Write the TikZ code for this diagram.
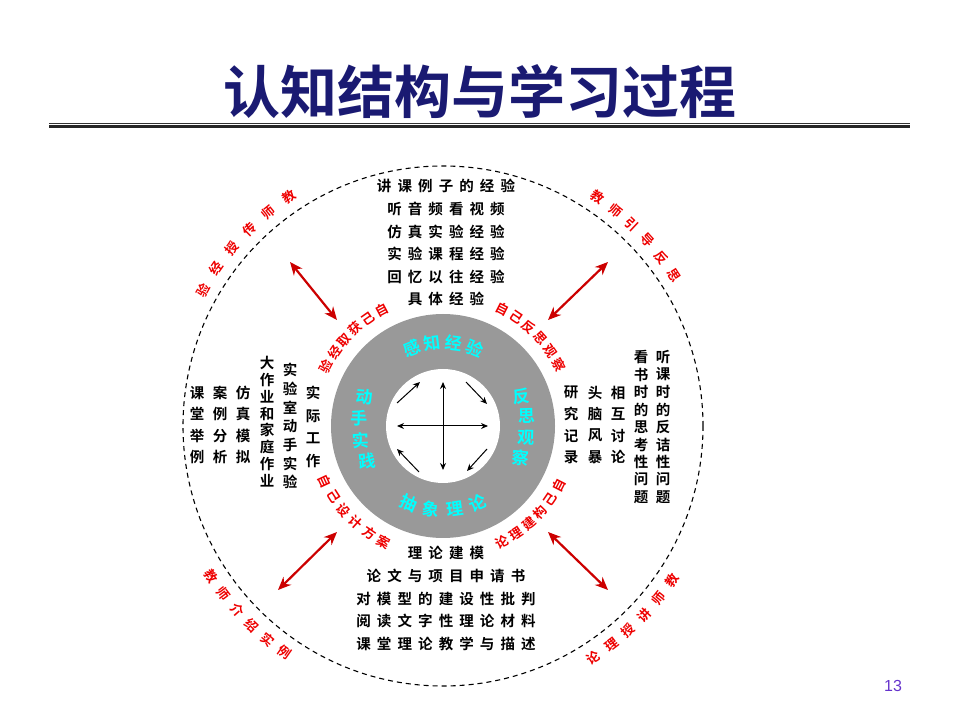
\documentclass[tikz,border=0pt]{standalone}
\usepackage{fontspec}
\setmainfont{Liberation Sans}
\newfontfamily\cjk{Noto Sans CJK SC}[BoldFont={* Bold}]
\usetikzlibrary{calc,arrows.meta}
\definecolor{navy}{HTML}{1A1A72}
\definecolor{redtxt}{HTML}{EE0000}
\definecolor{redarr}{HTML}{CC0000}
\definecolor{ringgray}{HTML}{999999}
\definecolor{cyantxt}{HTML}{00FFFF}
\definecolor{pnum}{HTML}{6633CC}
\tikzset{
  blk/.style={font=\cjk\bfseries\fontsize{14.5}{16}\selectfont, inner sep=0pt},
  blkline/.style={font=\cjk\bfseries\fontsize{14.5}{16}\selectfont\addfontfeature{LetterSpace=42}, inner sep=0pt},
  redc/.style={font=\cjk\bfseries\fontsize{13}{14}\selectfont, text=redtxt, inner sep=0pt},
  cyc/.style={font=\cjk\bfseries\fontsize{17}{18}\selectfont, text=cyantxt, inner sep=0pt},
  dbl/.style={redarr, line width=2.2pt, {Stealth[length=13pt,width=11pt]}-{Stealth[length=13pt,width=11pt]}},
  inarr/.style={black, line width=1pt, -{Stealth[length=7pt,width=6pt]}},
}
% #1 name prefix, #2 style, #3 radius, #4 start angle, #5 step, #6 rot factor, #7 rot offset, #8 list
\newcommand\arctxt[8]{%
  \foreach \ch [count=\i from 0] in {#8} {%
    \pgfmathsetmacro\ang{#4+\i*(#5)}%
    \pgfmathsetmacro\rot{(#6)*\ang+(#7)}%
    \node[#2, rotate=\rot] (#1-\i) at ($(C)+(\ang:#3)$) {\ch};
  }%
}
% #1 name prefix, #2 x, #3 y centre, #4 pitch, #5 count, #6 list
\newcommand\vcol[6]{%
  \foreach \ch [count=\i from 0] in {#6} {%
    \pgfmathsetmacro\yy{#3+((#5-1)/2-\i)*(#4)}%
    \node[blk] (#1-\i) at (#2,\yy) {\ch};
  }%
}
\begin{document}
\begin{tikzpicture}[x=1pt,y=1pt]
\useasboundingbox (0,0) rectangle (960,720);
\fill[white] (0,0) rectangle (960,720);
% title
\node[font=\cjk\bfseries\fontsize{57}{60}\selectfont, text=navy, inner sep=0pt] (title) at (480,628) {认知结构与学习过程};
\draw[line width=0.8pt, black!80] (49,596.3) coordinate (l1a) -- (910,596.3) coordinate (l1b);
\draw[line width=2.5pt, black!85] (49,593.3) coordinate (l2a) -- (910,593.3) coordinate (l2b);
\coordinate (C) at (443,294);
% dashed circle
\draw[dashed, line width=1.1pt, dash pattern=on 5pt off 4pt] (C) circle (260);
% ring
\fill[ringgray] (C) circle (112);
\fill[white] (C) circle (57);
% inner arrows
\coordinate (vt) at (443,338); \coordinate (vb) at (443,250);
\coordinate (hl) at (397,294); \coordinate (hr) at (488,294);
\draw[black, line width=1pt, {Stealth[length=7pt,width=6pt]}-{Stealth[length=7pt,width=6pt]}] (vb) -- (vt);
\draw[black, line width=1pt, {Stealth[length=7pt,width=6pt]}-{Stealth[length=7pt,width=6pt]}] (hl) -- (hr);
\coordinate (d1a) at (397,317); \coordinate (d1b) at (420,338);
\coordinate (d2a) at (466,338); \coordinate (d2b) at (487,316);
\coordinate (d3a) at (487,271); \coordinate (d3b) at (467,249);
\coordinate (d4a) at (419,248); \coordinate (d4b) at (397,271);
\draw[inarr] (d1a) -- (d1b);
\draw[inarr] (d2a) -- (d2b);
\draw[inarr] (d3a) -- (d3b);
\draw[inarr] (d4a) -- (d4b);
% cyan ring text
\arctxt{cyt}{cyc}{84}{112}{-14.7}{1}{-90}{感,知,经,验}
\arctxt{cyr}{cyc}{84}{21}{-14.5}{0.25}{0}{反,思,观,察}
\arctxt{cyl}{cyc}{84}{160}{15}{0.25}{-45}{动,手,实,践}
\arctxt{cyb}{cyc}{84}{246}{16}{1}{90}{抽,象,理,论}
% inner red texts
\arctxt{rtl}{redc}{131}{118}{7}{1}{-90}{自,己,获,取,经,验}
\arctxt{rtr}{redc}{131}{63}{-7}{1}{-90}{自,己,反,思,观,察}
\arctxt{rbr}{redc}{130}{-27}{-7.2}{1}{90}{自,己,构,建,理,论}
\arctxt{rbl}{redc}{130}{205}{7.6}{1}{90}{自,己,设,计,方,案}
% outer red texts
\arctxt{otl}{redc}{276}{124}{5.3}{1}{-90}{教,师,传,授,经,验}
\arctxt{otr}{redc}{276}{56}{-4.6}{1}{-90}{教,师,引,导,反,思}
\arctxt{obl}{redc}{276}{213}{4.4}{1}{90}{教,师,介,绍,实,例}
\arctxt{obr}{redc}{276}{-34}{-4.6}{1}{90}{教,师,讲,授,理,论}
% red double arrows
\coordinate (atl1) at (290,458); \coordinate (atl2) at (337,400);
\coordinate (atr1) at (608,458); \coordinate (atr2) at (548,400);
\coordinate (abl1) at (337,188); \coordinate (abl2) at (278,130);
\coordinate (abr1) at (548,188); \coordinate (abr2) at (608,130);
\draw[dbl] (atl1) -- (atl2);
\draw[dbl] (atr1) -- (atr2);
\draw[dbl] (abl1) -- (abl2);
\draw[dbl] (abr1) -- (abr2);
% top block
\node[blkline] (t1) at (446,534) {讲课例子的经验};
\node[blkline] (t2) at (446,511) {听音频看视频};
\node[blkline] (t3) at (446,488) {仿真实验经验};
\node[blkline] (t4) at (446,466) {实验课程经验};
\node[blkline] (t5) at (446,443) {回忆以往经验};
\node[blkline] (t6) at (446,421) {具体经验};
% bottom block
\node[blkline] (b1) at (446,167) {理论建模};
\node[blkline] (b2) at (446,144) {论文与项目申请书};
\node[blkline] (b3) at (446,121) {对模型的建设性批判};
\node[blkline] (b4) at (446,99) {阅读文字性理论材料};
\node[blkline] (b5) at (446,76) {课堂理论教学与描述};
% left columns
\vcol{lc1}{313}{293}{22.5}{4}{实,际,工,作}
\vcol{lc2}{290}{294}{18.7}{7}{实,验,室,动,手,实,验}
\vcol{lc3}{267}{298}{16.8}{8}{大,作,业,和,家,庭,作,业}
\vcol{lc4}{243}{295}{21.5}{4}{仿,真,模,拟}
\vcol{lc5}{220}{295}{21.5}{4}{案,例,分,析}
\vcol{lc6}{197}{295}{21.5}{4}{课,堂,举,例}
% right columns
\vcol{rc1}{571}{295}{21.5}{4}{研,究,记,录}
\vcol{rc2}{595}{295}{21.5}{4}{头,脑,风,暴}
\vcol{rc3}{618}{295}{21.5}{4}{相,互,讨,论}
\vcol{rc4}{641}{293}{17.5}{9}{看,书,时,的,思,考,性,问,题}
\vcol{rc5}{663}{293}{17.5}{9}{听,课,时,的,反,诘,性,问,题}
% page number
\node[font=\fontsize{16}{18}\selectfont, text=pnum, inner sep=0pt] (pg) at (893,34) {13};
\end{tikzpicture}
\end{document}
